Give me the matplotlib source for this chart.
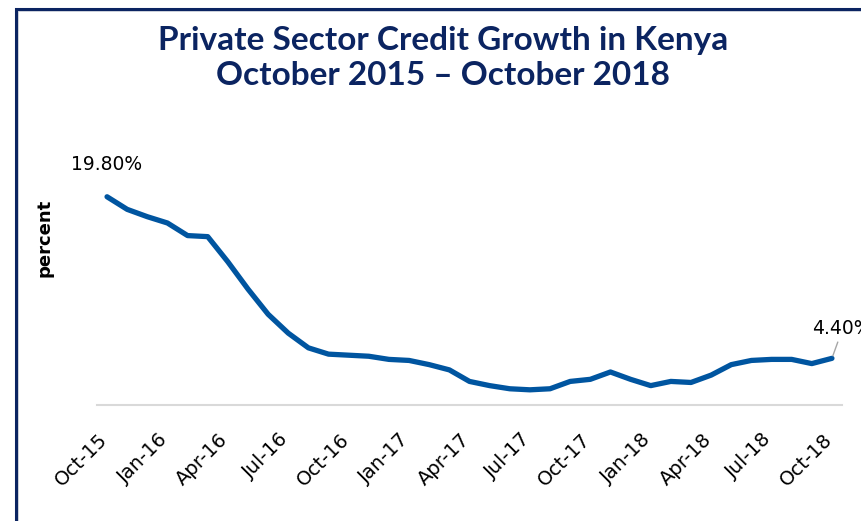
import matplotlib
matplotlib.use("Agg")
import matplotlib.pyplot as plt
import matplotlib.transforms as mtransforms
from matplotlib.patches import Rectangle

# Monthly private sector credit growth, Oct 2015 - Oct 2018 (%)
months = [
    "Oct-15", "Nov-15", "Dec-15", "Jan-16", "Feb-16", "Mar-16", "Apr-16", "May-16",
    "Jun-16", "Jul-16", "Aug-16", "Sep-16", "Oct-16", "Nov-16", "Dec-16", "Jan-17",
    "Feb-17", "Mar-17", "Apr-17", "May-17", "Jun-17", "Jul-17", "Aug-17", "Sep-17",
    "Oct-17", "Nov-17", "Dec-17", "Jan-18", "Feb-18", "Mar-18", "Apr-18", "May-18",
    "Jun-18", "Jul-18", "Aug-18", "Sep-18", "Oct-18",
]
growth = [
    19.8, 18.6, 17.9, 17.3, 16.1, 16.0, 13.6, 11.0,
    8.6, 6.8, 5.4, 4.8, 4.7, 4.6, 4.3, 4.2,
    3.8, 3.3, 2.2, 1.8, 1.5, 1.4, 1.5, 2.2,
    2.4, 3.1, 2.4, 1.8, 2.2, 2.1, 2.8, 3.8,
    4.2, 4.3, 4.3, 3.9, 4.4,
]

navy = "#0b2461"
line_blue = "#0055a0"

fig = plt.figure(figsize=(8.62, 5.21), dpi=100)
ax = fig.add_axes([0.1125, 0.2236, 0.8643, 0.4833])

x = list(range(len(months)))
ax.plot(x, growth, color=line_blue, lw=3.8, solid_joinstyle="round",
        solid_capstyle="round", zorder=3)

ax.set_xlim(-0.5, len(months) - 0.5)
ax.set_ylim(0, 24)

# quarterly ticks only
ticks = x[::3]
ax.set_xticks(ticks)
ax.set_xticklabels([months[i] for i in ticks], rotation=45, ha="right",
                   fontsize=14, color="#000000")
ax.tick_params(axis="x", length=0, pad=18)
shift = mtransforms.ScaledTranslation(4 / 100, 0, fig.dpi_scale_trans)
for lbl in ax.get_xticklabels():
    lbl.set_transform(lbl.get_transform() + shift)
ax.set_yticks([])

for side in ("top", "right", "left"):
    ax.spines[side].set_visible(False)
ax.spines["bottom"].set_color("#d9d9d9")
ax.spines["bottom"].set_linewidth(1.5)

ax.set_ylabel("percent", fontsize=13, fontweight="bold", color="#000000")
ax.yaxis.set_label_coords(-0.058, 0.66)

# first and last value labels
ax.annotate(f"{growth[0]:.2f}%", xy=(x[0], growth[0]), xytext=(0, 23.5),
            textcoords="offset points", ha="center", va="center", fontsize=13.5,
            color="#000000", annotation_clip=False)
ax.annotate(f"{growth[-1]:.2f}%", xy=(x[-1], growth[-1]), xytext=(-14, 21.5),
            textcoords="offset points", ha="left", va="center", fontsize=13.5,
            color="#000000", annotation_clip=False,
            arrowprops=dict(arrowstyle="-", color="#a6a6a6", lw=1,
                            relpos=(0.45, 0), shrinkA=1, shrinkB=2))

fig.text(0.514, 0.888, "Private Sector Credit Growth in Kenya\nOctober 2015 \u2013 October 2018",
         ha="center", va="center", fontsize=24, fontweight="bold", color=navy,
         family=["Lato", "DejaVu Sans"], linespacing=1.25)

# slide frame
fig.add_artist(Rectangle((18.5 / 862, -0.2), 1.0, (521 - 10.5) / 521 + 0.2,
                         transform=fig.transFigure, fill=False,
                         edgecolor="#c8cdd8", lw=1.2, zorder=0))
fig.add_artist(Rectangle((16.5 / 862, -0.2), 1.0, (521 - 8.8) / 521 + 0.2,
                         transform=fig.transFigure, fill=False,
                         edgecolor=navy, lw=2.2, zorder=1))

fig.savefig("out.png", dpi=100)
